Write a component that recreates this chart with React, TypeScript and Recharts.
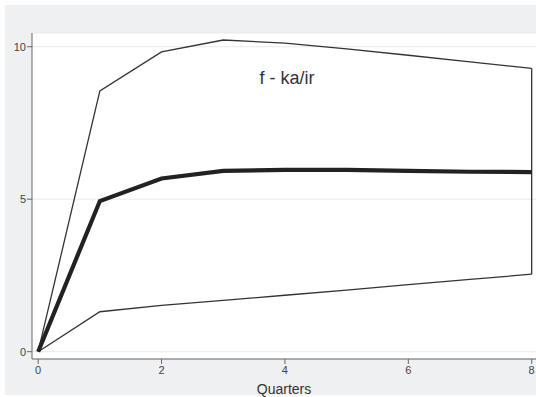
import React from 'react';
import { LineChart, Line, XAxis, YAxis, CartesianGrid, ReferenceLine, Label } from 'recharts';

// impulse response of f to a ka/ir shock, with its confidence band
const quarters = [0, 1, 2, 3, 4, 5, 6, 7, 8];
const upper = [0, 8.55, 9.83, 10.22, 10.12, 9.93, 9.72, 9.5, 9.29];
const response = [0, 4.94, 5.68, 5.93, 5.96, 5.96, 5.93, 5.9, 5.89];
const lower = [0, 1.31, 1.52, 1.68, 1.85, 2.02, 2.2, 2.37, 2.54];
const xTicks = [0, 2, 4, 6, 8];
const yTicks = [0, 5, 10];

const data = quarters.map((q, i) => ({ q, upper: upper[i], response: response[i], lower: lower[i] }));
const last = quarters.length - 1;

const font = '"Liberation Sans", Arial, sans-serif';
const tickStyle = { fill: '#444', fontSize: 11, fontFamily: font };

const App: React.FC = () => {
  return (
    <div style={{ position: 'absolute', left: 0, top: 0, width: 536, height: 397, background: '#fff' }}>
      <div style={{ position: 'absolute', left: 5, top: 5, width: 531, height: 390, background: '#eff0f1' }} />
      <div style={{ position: 'absolute', left: 0, top: 0 }}>
        <LineChart width={536} height={397} data={data} margin={{ top: 33, right: 0, left: 0, bottom: 1 }}>
          <CartesianGrid vertical={false} stroke="#e9e9e9" fill="#fff" />
          <XAxis
            dataKey="q"
            type="number"
            domain={[-0.1, 8.07]}
            ticks={xTicks}
            allowDataOverflow
            height={37}
            stroke="#666"
            tickSize={5}
            tickMargin={2}
            tick={tickStyle}
          >
            <Label value="Quarters" position="insideBottom" offset={2} style={{ fill: '#333', fontSize: 14, fontFamily: font }} />
          </XAxis>
          <YAxis
            type="number"
            domain={[-0.24, 10.45]}
            ticks={yTicks}
            allowDataOverflow
            width={32}
            stroke="#666"
            tickSize={5}
            tickMargin={1}
            tick={tickStyle}
          />
          <Line dataKey="upper" type="linear" stroke="#333" strokeWidth={1.3} dot={false} isAnimationActive={false} />
          <Line dataKey="lower" type="linear" stroke="#333" strokeWidth={1.3} dot={false} isAnimationActive={false} />
          <ReferenceLine
            segment={[{ x: quarters[last], y: lower[last] }, { x: quarters[last], y: upper[last] }]}
            stroke="#333"
            strokeWidth={1.3}
          />
          <Line dataKey="response" type="linear" stroke="#222" strokeWidth={4.2} dot={false} isAnimationActive={false} />
          <text x={287} y={84} textAnchor="middle" fill="#333" fontSize={18} fontFamily={font}>f - ka/ir</text>
        </LineChart>
      </div>
    </div>
  );
};

export default App;
